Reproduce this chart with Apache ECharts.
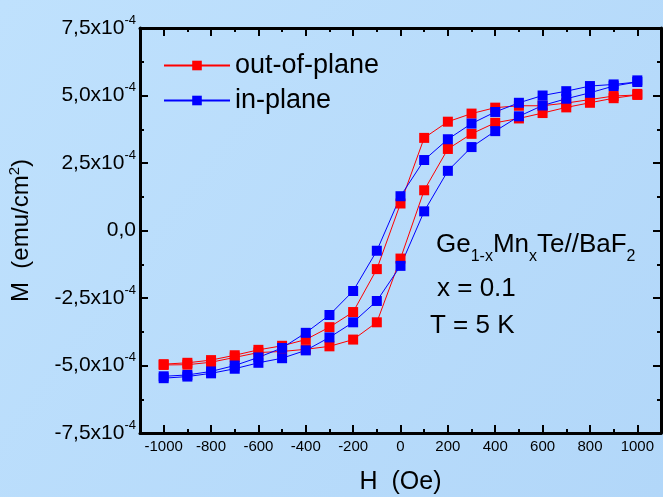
<!DOCTYPE html>
<html>
<head>
<meta charset="utf-8">
<script src="https://cdn.jsdelivr.net/npm/echarts@6/dist/echarts.min.js"></script>
<style>
html,body{margin:0;padding:0;background:#badefc;}
#chart{width:663px;height:497px;}
</style>
</head>
<body>
<div id="chart"></div>
<script>
// field steps, Oe
var field = [-1000,-900,-800,-700,-600,-500,-400,-300,-200,-100,0,100,200,300,400,500,600,700,800,900,1000];
// M in units of 1e-4 emu/cm2
// out-of-plane: ascending (lower) and descending (upper) branch
var outLower = [-4.98,-4.97,-4.88,-4.70,-4.52,-4.48,-4.40,-4.29,-4.04,-3.40,-1.04,1.49,3.02,3.58,3.99,4.15,4.35,4.56,4.73,4.90,5.02];
var outUpper = [-4.95,-4.90,-4.80,-4.62,-4.42,-4.27,-4.04,-3.58,-3.02,-1.43,1.00,3.43,4.03,4.33,4.55,4.62,4.62,4.72,4.85,4.98,5.06];
// in-plane
var inLower = [-5.47,-5.41,-5.29,-5.12,-4.90,-4.73,-4.44,-3.96,-3.40,-2.61,-1.31,0.71,2.21,3.09,3.68,4.23,4.63,4.88,5.10,5.35,5.50];
var inUpper = [-5.40,-5.35,-5.22,-5.00,-4.70,-4.35,-3.79,-3.13,-2.24,-0.75,1.27,2.61,3.38,3.96,4.39,4.73,5.00,5.16,5.35,5.41,5.56];

var xLabels = [-1000,-800,-600,-400,-200,0,200,400,600,800,1000];
var names = ['out-of-plane','in-plane'];

var font = 'Liberation Sans, Arial, sans-serif';

// whole loop: up the lower branch, back down the upper one
var loop = function(lower, upper){
    var d = field.map(function(h, i){ return [h, lower[i]]; });
    for (var i = field.length - 1; i >= 0; i--) {
        d.push([field[i], upper[i]]);
    }
    return d;
};

var yLabel = function(v){
    if (v === 0) return '0,0';
    return v.toFixed(1).replace('.', ',') + 'x10{sup|-4}';
};

var xBase = {
    type: 'value',
    min: -1100,
    max: 1100,
    interval: 100,
    splitLine: {show: false},
    axisLine: {show: true, onZero: false, lineStyle: {color: '#000', width: 3}},
    axisTick: {show: true, inside: true, length: 4, lineStyle: {color: '#000', width: 2}},
    axisLabel: {show: false}
};
var xMajor = {
    type: 'value',
    min: -1100,
    max: 1100,
    interval: 100,
    splitLine: {show: false},
    axisLine: {show: false, onZero: false},
    axisTick: {show: true, inside: true, length: 8, customValues: xLabels, lineStyle: {color: '#000', width: 2}},
    axisLabel: {show: false}
};

var yBase = {
    type: 'value',
    min: -7.5,
    max: 7.5,
    interval: 2.5,
    splitLine: {show: false},
    axisLine: {show: true, onZero: false, lineStyle: {color: '#000', width: 3}},
    axisTick: {show: true, inside: true, length: 8, lineStyle: {color: '#000', width: 2}},
    minorTick: {show: true, splitNumber: 2, length: 4, lineStyle: {color: '#000', width: 2}},
    minorSplitLine: {show: false},
    axisLabel: {show: false}
};

var option = {
    animation: false,
    backgroundColor: {
        type: 'linear', x: 0, y: 0, x2: 1, y2: 1,
        colorStops: [{offset: 0, color: '#bfe1fd'}, {offset: 1, color: '#b2d7f9'}]
    },
    textStyle: {fontFamily: font},
    grid: {left: 140, right: 2, top: 28, bottom: 64, outerBoundsMode: 'none'},
    legend: {
        left: 158,
        top: 47,
        orient: 'vertical',
        itemWidth: 66,
        itemHeight: 12,
        itemGap: 8,
        textStyle: {fontSize: 27, color: '#000', fontFamily: font},
        data: names
    },
    xAxis: [
        Object.assign({}, xBase, {
            position: 'bottom',
            axisLabel: {
                show: true, customValues: xLabels, fontSize: 15, color: '#000', margin: 6, fontFamily: font,
                formatter: function(v){ return String(v); }
            },
            name: 'H  (Oe)',
            nameLocation: 'middle',
            nameGap: 37,
            nameTextStyle: {fontSize: 25, color: '#000', fontFamily: font}
        }),
        Object.assign({}, xMajor, {position: 'bottom'}),
        Object.assign({}, xBase, {position: 'top'}),
        Object.assign({}, xMajor, {position: 'top'})
    ],
    yAxis: [
        Object.assign({}, yBase, {
            position: 'left',
            axisLabel: {
                show: true, fontSize: 21, color: '#000', margin: 4, fontFamily: font,
                formatter: yLabel,
                rich: {sup: {fontSize: 13, color: '#000', padding: [0, 0, 16, 0], fontFamily: font}}
            },
            name: 'M  (emu/cm{sup|2})',
            nameLocation: 'middle',
            nameGap: 104,
            nameRotate: 90,
            nameTextStyle: {
                fontSize: 24, color: '#000', fontFamily: font,
                rich: {sup: {fontSize: 15, color: '#000', padding: [0, 0, 14, 0], fontFamily: font}}
            }
        }),
        Object.assign({}, yBase, {position: 'right'})
    ],
    graphic: [
        {
            type: 'text', left: 436, top: 232,
            style: {
                text: 'Ge{sub|1-x}Mn{sub|x}Te//BaF{sub|2}',
                fontSize: 26, fontFamily: font, fill: '#000',
                rich: {sub: {fontSize: 16, fill: '#000', padding: [24, 0, 0, 0], fontFamily: font}}
            }
        },
        {type: 'text', left: 437, top: 276, style: {text: 'x = 0.1', fontSize: 26, fontFamily: font, fill: '#000'}},
        {type: 'text', left: 430, top: 313, style: {text: 'T = 5 K', fontSize: 26, fontFamily: font, fill: '#000'}}
    ],
    series: [
        {
            name: names[0],
            type: 'line',
            xAxisIndex: 0,
            yAxisIndex: 0,
            symbol: 'rect',
            symbolSize: 10,
            color: '#ff0000',
            lineStyle: {width: 1, color: '#ff0000'},
            itemStyle: {color: '#ff0000'},
            data: loop(outLower, outUpper)
        },
        {
            name: names[1],
            type: 'line',
            xAxisIndex: 0,
            yAxisIndex: 0,
            symbol: 'rect',
            symbolSize: 10,
            color: '#0000ff',
            lineStyle: {width: 1, color: '#0000ff'},
            itemStyle: {color: '#0000ff'},
            data: loop(inLower, inUpper)
        }
    ]
};

var myChart = echarts.init(document.getElementById('chart'));
myChart.setOption(option);
</script>
</body>
</html>
